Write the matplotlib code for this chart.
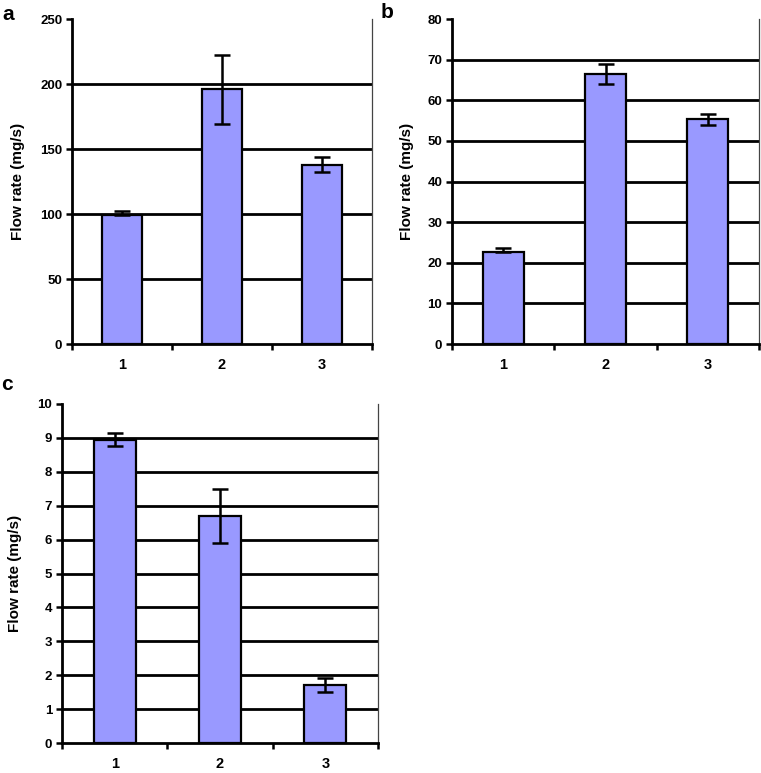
import matplotlib
matplotlib.use("Agg")
import matplotlib.pyplot as plt
import numpy as np

plt.rcParams['font.family'] = ['Liberation Sans', 'DejaVu Sans']

categories = ["1", "2", "3"]
a_values = [99, 196, 138]
a_err_lower = [0, 26.5, 6]
a_err_upper = [3, 26.5, 6]
b_values = [22.7, 66.5, 55.3]
b_err_lower = [0, 2.4, 1.4]
b_err_upper = [1.0, 2.4, 1.4]
c_values = [8.95, 6.69, 1.70]
c_err_lower = [0.18, 0.8, 0.21]
c_err_upper = [0.18, 0.8, 0.21]
ylabel = "Flow rate (mg/s)"

W, H = 761, 773
fig = plt.figure(figsize=(W / 100, H / 100), dpi=100)

def px_axes(left, right, top, bottom):
    return fig.add_axes([left / W, (H - bottom) / H, (right - left) / W, (bottom - top) / H])

def panel(ax, values, err_lo, err_hi, ymax, ystep, letter, lx, ly, ylab_x, ylab_y):
    x = np.arange(len(categories))
    ax.bar(x, values, width=0.4, color="#9999FF", edgecolor="black", linewidth=1.6, zorder=3)
    ax.errorbar(x, values, yerr=[err_lo, err_hi], fmt="none", ecolor="black", elinewidth=1.8,
                capsize=6, capthick=1.8, zorder=4)
    ax.set_xlim(-0.5, len(categories) - 0.5)
    ax.set_ylim(0, ymax)
    yt = np.arange(0, ymax + ystep / 2, ystep)
    ax.set_yticks(yt)
    ax.set_yticklabels([f"{v:g}" for v in yt])
    for v in yt[1:-1]:
        ax.axhline(v, color="black", linewidth=2.0, zorder=1)
    ax.set_xticks(np.arange(-0.5, len(categories), 1.0))
    ax.set_xticklabels([])
    ax.set_xticks(x, minor=True)
    ax.set_xticklabels(categories, minor=True, fontsize=10.5, fontweight="bold")
    ax.tick_params(axis="x", which="minor", length=0, pad=10)
    ax.tick_params(axis="x", which="major", length=4, width=1.8, direction="out")
    ax.tick_params(axis="y", length=4, width=1.8, direction="out", pad=3, labelsize=9.5)
    for lab in ax.get_yticklabels():
        lab.set_fontweight("bold")
    ax.spines["top"].set_visible(False)
    ax.spines["left"].set_linewidth(2.0)
    ax.spines["bottom"].set_linewidth(2.0)
    ax.spines["right"].set_linewidth(0.9)
    ax.spines["right"].set_color("#444444")
    ax.set_facecolor("white")
    ax.set_ylabel(ylabel, fontsize=11, fontweight="bold", va="center")
    ax.yaxis.set_label_coords(ylab_x / W, 1 - ylab_y / H, transform=fig.transFigure)
    fig.text(lx / W, 1 - ly / H, letter, fontsize=15, fontweight="bold", ha="left", va="center")

ax_a = px_axes(72, 372, 19, 344)
panel(ax_a, a_values, a_err_lower, a_err_upper, 250, 50, "a", 2, 14, 18, 181)

ax_b = px_axes(452, 759, 19, 344)
panel(ax_b, b_values, b_err_lower, b_err_upper, 80, 10, "b", 381, 12, 407, 181)

ax_c = px_axes(62, 378, 404, 743)
panel(ax_c, c_values, c_err_lower, c_err_upper, 10, 1, "c", 1, 385, 15, 573)

fig.savefig("out.png", dpi=100, facecolor="white")
